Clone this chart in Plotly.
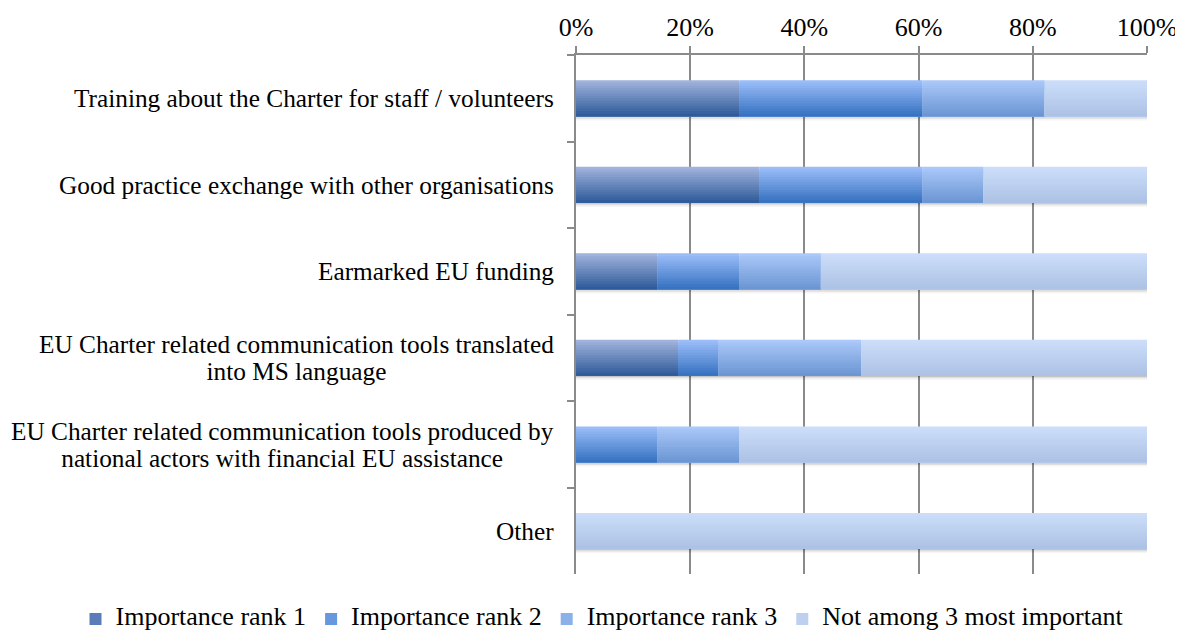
import plotly.graph_objects as go

categories = [
    "Training about the Charter for staff / volunteers",
    "Good practice exchange with other organisations",
    "Earmarked EU funding",
    "EU Charter related communication tools translated<br>into MS language",
    "EU Charter related communication tools produced by<br>national actors with financial EU assistance",
    "Other",
]
series_names = ["Importance rank 1", "Importance rank 2", "Importance rank 3", "Not among 3 most important"]
rank1 = [28.6, 32.1, 14.3, 17.9, 0.0, 0.0]
rank2 = [32.1, 28.6, 14.3, 7.1, 14.3, 0.0]
rank3 = [21.4, 10.7, 14.3, 25.0, 14.3, 0.0]
not_top3 = [17.9, 28.6, 57.1, 50.0, 71.4, 100.0]
tick_vals = [0, 20, 40, 60, 80, 100]
tick_text = ["0%", "20%", "40%", "60%", "80%", "100%"]

series_values = [rank1, rank2, rank3, not_top3]
# (top colour, bottom colour) of each series' vertical gradient
grad = [
    ((163, 182, 222), (44, 88, 152)),
    ((158, 192, 250), (52, 112, 192)),
    ((172, 202, 250), (106, 148, 210)),
    ((204, 222, 250), (172, 193, 228)),
]
legend_cols = ["#5a7cb8", "#6698e0", "#8cb0e8", "#bdd0f0"]

FONT = "Liberation Serif"
FS_TICK = 26
FS_LABEL = 25.3
FS_LEGEND = 26
BAR_W = 0.415
N = 14

# the page body adds an 8px margin; work in figure coordinates
OFF = 8
W, H = 1183 - OFF, 636 - OFF
PLOT_L, PLOT_R, PLOT_T, PLOT_B = 576 - OFF, 1147 - OFF, 55 - OFF, 575 - OFF
ML, MR, MT, MB = 20, W - PLOT_R, PLOT_T, 0
x_dom0 = (PLOT_L - ML) / (W - ML - MR)
y_dom0 = (H - MB - PLOT_B) / (H - MT - MB)


def sized(text, px):
    return "<br>".join(f'<span style="font-size:{px}px">{t}</span>' for t in text.split("<br>"))


fig = go.Figure()

totals = [sum(v[i] for v in series_values) for i in range(len(categories))]
# soft shadow under each bar
for k, a in enumerate([0.16, 0.09, 0.04]):
    fig.add_trace(go.Bar(
        y=categories, x=totals, base=[0] * len(categories), orientation="h",
        width=0.03 + 0.02 * k, offset=BAR_W / 2 - 0.02,
        marker=dict(color=f"rgba(0,0,0,{a})", line=dict(width=0)),
        showlegend=False, hoverinfo="skip",
    ))

bases = [0.0] * len(categories)
for s, (name, vals) in enumerate(zip(series_names, series_values)):
    top, bot = grad[s]
    for i in range(N):
        t = (i + 0.5) / N
        c = tuple(round(top[j] + (bot[j] - top[j]) * t) for j in range(3))
        off = -BAR_W / 2 + BAR_W * i / N
        fig.add_trace(go.Bar(
            y=categories, x=vals, base=list(bases), orientation="h",
            width=BAR_W - BAR_W * i / N, offset=off,
            marker=dict(color=f"rgb{c}", line=dict(width=0)),
            name=name, legendgroup=name, showlegend=False,
            hovertemplate="%{x}%<extra>" + name + "</extra>",
        ))
    # legend-only entry
    fig.add_trace(go.Bar(
        y=[None], x=[None], orientation="h",
        name=sized(name, FS_LEGEND), legendgroup=name,
        marker=dict(color=legend_cols[s], line=dict(width=0)), showlegend=True,
    ))
    bases = [b + v for b, v in zip(bases, vals)]

# category labels: centred lines, 27px line pitch
LINE_PITCH = 27
for cat in categories:
    fig.add_annotation(
        x=0, xref="x domain", y=cat, yref="y", xanchor="right", yanchor="middle",
        xshift=-20, text=sized(cat, FS_LABEL), align="center", showarrow=False,
        font=dict(family=FONT, size=LINE_PITCH / 1.3, color="black"),
    )

fig.update_layout(
    width=W, height=H,
    margin=dict(l=ML, r=MR, t=MT, b=MB),
    barmode="overlay",
    plot_bgcolor="white", paper_bgcolor="white",
    font=dict(family=FONT, size=FS_TICK, color="black"),
    showlegend=True,
    legend=dict(
        orientation="h", xref="paper", yref="paper",
        x=(602 - OFF - ML) / (W - ML - MR), xanchor="center",
        y=(H - (620 - OFF)) / (H - MT - MB), yanchor="middle",
        font=dict(family=FONT, size=16, color="black"),
        itemwidth=30, traceorder="normal", bgcolor="rgba(0,0,0,0)",
    ),
    xaxis=dict(
        domain=[x_dom0, 1],
        side="top", range=[0, 100], tickvals=tick_vals, ticktext=tick_text,
        showgrid=True, gridcolor="#8a8a8a", gridwidth=1.5,
        showline=True, linecolor="#8a8a8a", linewidth=1.5,
        ticks="outside", ticklen=7, tickcolor="#8a8a8a", tickwidth=1.5,
        zeroline=False, tickfont=dict(family=FONT, size=FS_TICK, color="black"),
        fixedrange=True,
    ),
    yaxis=dict(
        domain=[y_dom0, 1],
        type="category", categoryorder="array", categoryarray=categories,
        autorange="reversed", showticklabels=False,
        showline=True, linecolor="#8a8a8a", linewidth=1.5,
        ticks="outside", ticklen=7, tickcolor="#8a8a8a", tickwidth=1.5,
        tickson="boundaries", showgrid=False, zeroline=False, fixedrange=True,
    ),
)

fig.write_html("out.html")
